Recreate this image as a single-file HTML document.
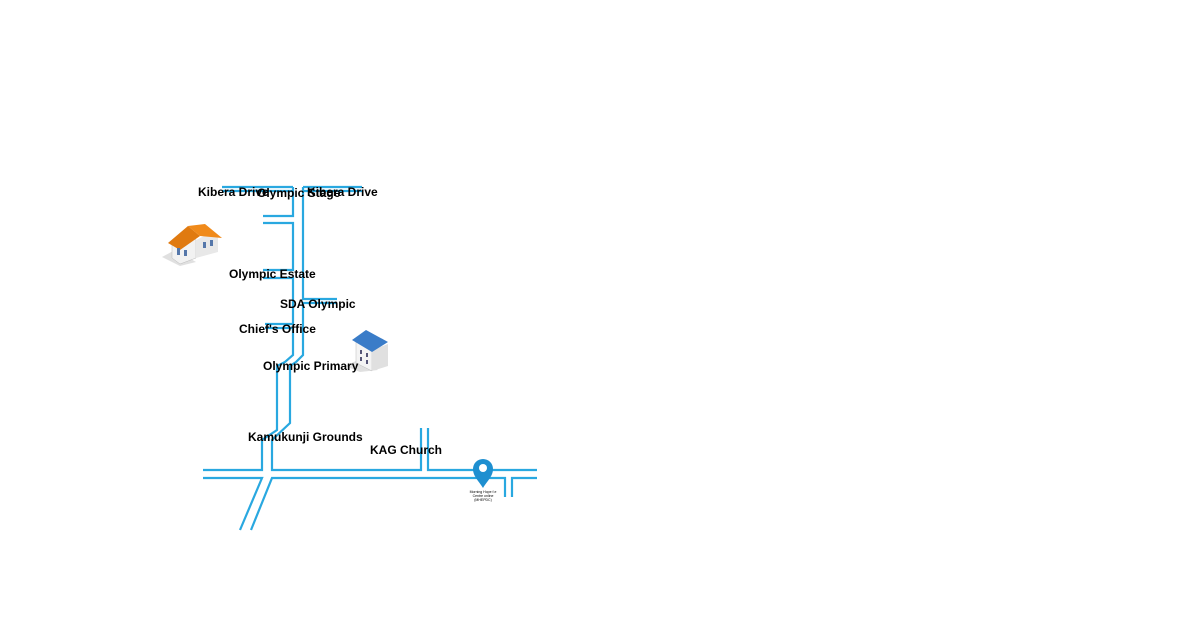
<!DOCTYPE html>
<html><head><style>
body{margin:0;background:#fff;width:1200px;height:630px;overflow:hidden}
svg{position:absolute;left:0;top:0}
text{font-family:"Liberation Sans",sans-serif;font-weight:bold;font-size:12px;fill:#000}
</style></head><body>
<svg width="1200" height="630" viewBox="0 0 1200 630">
<g fill="none" stroke="#29a8e0" stroke-width="2.2">
<polyline points="222,187 293,187"/>
<polyline points="222,191 293,191"/>
<polyline points="303,187 362,187"/>
<polyline points="303,191 362,191"/>
<polyline points="263,216 293,216 293,187"/>
<polyline points="263,223 293,223 293,270 263,270"/>
<polyline points="263,278 293,278 293,324 265,324"/>
<polyline points="265,328 293,328 293,355 285,362 277,366 277,430 262,440 262,470 203,470"/>
<polyline points="303,187 303,299 337,299"/>
<polyline points="337,303 303,303 303,355 296,362 290,366 290,423 272,440 272,470 421,470 421,428"/>
<polyline points="428,428 428,470 537,470"/>
<polyline points="203,478 262,478 240,530"/>
<polyline points="251,530 272,478 505,478 505,497"/>
<polyline points="512,497 512,478 537,478"/>
</g>
<!-- orange house -->
<g>
<polygon points="162,257 175,250 196,262 180,266" fill="#ccc" opacity=".6"/>
<polygon points="172,242 190,233 196,240 196,258 180,264 172,258" fill="#f2f2f2" stroke="#bbb" stroke-width=".5"/>
<polygon points="196,240 212,232 218,238 218,252 196,258" fill="#e8e8e8"/>
<polygon points="168,243 188,226 200,236 180,250" fill="#e07a10"/>
<polygon points="188,226 205,224 222,238 200,236" fill="#f08a1a"/>
<rect x="177" y="248" width="3" height="7" fill="#5577aa"/><rect x="184" y="250" width="3" height="6" fill="#5577aa"/>
<rect x="203" y="242" width="3" height="6" fill="#5577aa"/><rect x="210" y="240" width="3" height="6" fill="#5577aa"/>
</g>
<!-- blue building -->
<g>
<polygon points="345,366 358,360 378,370 360,372" fill="#ccc" opacity=".6"/>
<polygon points="356,342 372,350 372,371 356,363" fill="#f4f4f4" stroke="#bbb" stroke-width=".5"/>
<polygon points="372,350 388,344 388,366 372,371" fill="#e0e0e0"/>
<polygon points="352,340 366,330 388,342 372,352" fill="#3a7cc8"/>
<rect x="360" y="350" width="2" height="4" fill="#557"/><rect x="366" y="353" width="2" height="4" fill="#557"/>
<rect x="360" y="357" width="2" height="4" fill="#557"/><rect x="366" y="360" width="2" height="4" fill="#557"/>
</g>
<!-- pin -->
<path d="M483,488 C478,480 473,476 473,469 A10,10 0 0 1 493,469 C493,476 488,480 483,488 Z" fill="#1e8fd0"/>
<circle cx="483" cy="468" r="4" fill="#fff"/>
<text x="483" y="493" text-anchor="middle" style="font-size:3.5px;font-weight:normal">Morning Hope f.e</text>
<text x="483" y="497" text-anchor="middle" style="font-size:3.5px;font-weight:normal">Centre online</text>
<text x="483" y="501" text-anchor="middle" style="font-size:3.5px;font-weight:normal">(MHEPDC)</text>
<text x="198" y="196">Kibera Drive</text>
<text x="307" y="196">Kibera Drive</text>
<text x="257" y="197">Olympic Stage</text>
<text x="229" y="278">Olympic Estate</text>
<text x="280" y="308">SDA Olympic</text>
<text x="239" y="333">Chief's Office</text>
<text x="263" y="370">Olympic Primary</text>
<text x="248" y="441">Kamukunji Grounds</text>
<text x="370" y="454">KAG Church</text>
</svg>
</body></html>
